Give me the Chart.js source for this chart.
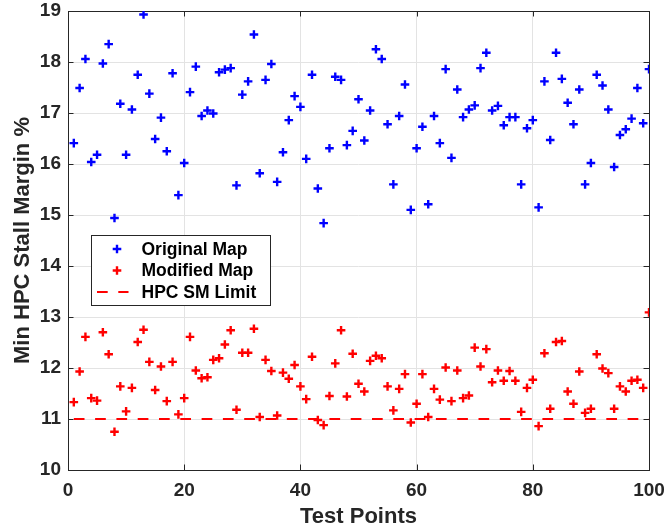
<!DOCTYPE html>
<html lang="en">
<head>
    <meta charset="UTF-8">
    <title>Min HPC Stall Margin</title>
    <script src="https://cdn.jsdelivr.net/npm/chart.js"></script>
    <style>
        body { margin: 0; background: #fff; }
        #smChart { display: block; }
    </style>
</head>
<body>
    <canvas id="smChart" width="670" height="529"></canvas>

    <script>
        // test point numbers along the x axis
        const testPoints = [
            1, 2, 3, 4, 5, 6, 7, 8, 9, 10,
            11, 12, 13, 14, 15, 16, 17, 18, 19, 20,
            21, 22, 23, 24, 25, 26, 27, 28, 29, 30,
            31, 32, 33, 34, 35, 36, 37, 38, 39, 40,
            41, 42, 43, 44, 45, 46, 47, 48, 49, 50,
            51, 52, 53, 54, 55, 56, 57, 58, 59, 60,
            61, 62, 63, 64, 65, 66, 67, 68, 69, 70,
            71, 72, 73, 74, 75, 76, 77, 78, 79, 80,
            81, 82, 83, 84, 85, 86, 87, 88, 89, 90,
            91, 92, 93, 94, 95, 96, 97, 98, 99, 100
        ];

        // min stall margin (%) with the original map
        const originalMap = [
            16.41, 17.49, 18.06, 16.04, 16.18, 17.97, 18.35, 14.94, 17.18, 16.18,
            17.07, 17.75, 18.93, 17.38, 16.49, 16.91, 16.25, 17.78, 15.39, 16.02,
            17.41, 17.91, 16.94, 17.05, 16.99, 17.80, 17.85, 17.88, 15.58, 17.36,
            17.62, 18.54, 15.82, 17.65, 17.96, 15.65, 16.23, 16.86, 17.33, 17.12,
            16.10, 17.75, 15.52, 14.84, 16.31, 17.71, 17.65, 16.37, 16.65, 17.27,
            16.46, 17.05, 18.25, 18.06, 16.78, 15.60, 16.94, 17.56, 15.10, 16.31,
            16.73, 15.21, 16.94, 16.41, 17.86, 16.12, 17.46, 16.92, 17.07, 17.15,
            17.88, 18.18, 17.05, 17.14, 16.76, 16.92, 16.92, 15.60, 16.70, 16.86,
            15.15, 17.62, 16.47, 18.18, 17.67, 17.20, 16.78, 17.46, 15.60, 16.02,
            17.75, 17.54, 17.07, 15.94, 16.57, 16.68, 16.89, 17.49, 16.80, 17.86
        ];

        // min stall margin (%) with the modified map
        const modifiedMap = [
            11.33, 11.93, 12.61, 11.41, 11.36, 12.70, 12.27, 10.75, 11.64, 11.15,
            11.61, 12.51, 12.75, 12.12, 11.57, 12.03, 11.35, 12.12, 11.09, 11.41,
            12.61, 11.95, 11.80, 11.82, 12.16, 12.19, 12.46, 12.74, 11.18, 12.30,
            12.30, 12.77, 11.04, 12.16, 11.94, 11.07, 11.91, 11.79, 12.06, 11.64,
            11.39, 12.22, 10.98, 10.88, 11.45, 12.09, 12.74, 11.44, 12.28, 11.69,
            11.54, 12.14, 12.24, 12.19, 11.64, 11.17, 11.59, 11.88, 10.93, 11.30,
            11.88, 11.04, 11.59, 11.38, 12.01, 11.35, 11.95, 11.41, 11.46, 12.40,
            12.03, 12.37, 11.72, 11.95, 11.75, 11.94, 11.75, 11.14, 11.61, 11.77,
            10.86, 12.29, 11.20, 12.51, 12.53, 11.54, 11.30, 11.93, 11.12, 11.20,
            12.27, 11.99, 11.90, 11.20, 11.64, 11.54, 11.75, 11.77, 11.61, 13.09
        ];

        // stall margin limit line
        const limitX = [1, 100];
        const limitY = [11, 11];

        const xTicks = [0, 20, 40, 60, 80, 100];
        const yTicks = [10, 11, 12, 13, 14, 15, 16, 17, 18, 19];

        const FONT = '"Liberation Sans", Arial, Helvetica, sans-serif';
        const AXIS_COLOR = '#262626';
        const GRID_COLOR = '#e3e3e3';

        const toPoints = (xs, ys) => xs.map((x, i) => ({ x: x, y: ys[i] }));

        // box around the plot with inward tick marks on all four sides
        const frameBox = {
            id: 'frameBox',
            beforeDatasetsDraw(chart) {
                const { ctx, chartArea: a, scales } = chart;
                const len = 5.5;
                ctx.save();
                ctx.strokeStyle = AXIS_COLOR;
                ctx.lineWidth = 1;
                ctx.beginPath();
                xTicks.forEach(v => {
                    const px = Math.round(scales.x.getPixelForValue(v)) + 0.5;
                    ctx.moveTo(px, a.bottom); ctx.lineTo(px, a.bottom - len);
                    ctx.moveTo(px, a.top); ctx.lineTo(px, a.top + len);
                });
                yTicks.forEach(v => {
                    const py = Math.round(scales.y.getPixelForValue(v)) + 0.5;
                    ctx.moveTo(a.left, py); ctx.lineTo(a.left + len, py);
                    ctx.moveTo(a.right, py); ctx.lineTo(a.right - len, py);
                });
                ctx.stroke();
                ctx.strokeRect(Math.round(a.left) + 0.5, Math.round(a.top) + 0.5,
                    Math.round(a.right - a.left), Math.round(a.bottom - a.top));
                ctx.restore();
            }
        };

        // legend box drawn inside the plot area
        const boxLegend = {
            id: 'boxLegend',
            afterDraw(chart) {
                const ctx = chart.ctx;
                const box = { x: 91.5, y: 235.5, w: 179, h: 70 };
                const rows = [249, 270.5, 292];
                ctx.save();
                ctx.fillStyle = '#ffffff';
                ctx.fillRect(box.x, box.y, box.w, box.h);
                ctx.strokeStyle = AXIS_COLOR;
                ctx.lineWidth = 1;
                ctx.strokeRect(box.x, box.y, box.w, box.h);

                chart.data.datasets.forEach((ds, i) => {
                    const cy = rows[i];
                    ctx.strokeStyle = ds.borderColor;
                    if (ds.showLine) {
                        ctx.lineWidth = ds.borderWidth;
                        ctx.setLineDash(ds.borderDash);
                        ctx.beginPath();
                        ctx.moveTo(97, cy);
                        ctx.lineTo(128.5, cy);
                        ctx.stroke();
                        ctx.setLineDash([]);
                    } else {
                        const r = ds.pointRadius;
                        ctx.lineWidth = ds.borderWidth;
                        ctx.beginPath();
                        ctx.moveTo(117 - r, cy); ctx.lineTo(117 + r, cy);
                        ctx.moveTo(117, cy - r); ctx.lineTo(117, cy + r);
                        ctx.stroke();
                    }
                    ctx.fillStyle = '#000000';
                    ctx.font = 'bold 17.5px ' + FONT;
                    ctx.textBaseline = 'middle';
                    ctx.textAlign = 'left';
                    ctx.fillText(ds.label, 141.5, cy + 1);
                });
                ctx.restore();
            }
        };

        const ctx = document.getElementById('smChart').getContext('2d');

        new Chart(ctx, {
            type: 'scatter',
            data: {
                datasets: [{
                    label: 'Original Map',
                    data: toPoints(testPoints, originalMap),
                    pointStyle: 'cross',
                    pointRadius: 4.3,
                    borderWidth: 2.4,
                    borderColor: '#0000ff',
                    backgroundColor: '#0000ff',
                    order: 3
                }, {
                    label: 'Modified Map',
                    data: toPoints(testPoints, modifiedMap),
                    pointStyle: 'cross',
                    pointRadius: 4.3,
                    borderWidth: 2.4,
                    borderColor: '#ff0000',
                    backgroundColor: '#ff0000',
                    order: 2
                }, {
                    label: 'HPC SM Limit',
                    data: toPoints(limitX, limitY),
                    type: 'line',
                    showLine: true,
                    pointRadius: 0,
                    borderWidth: 2,
                    borderDash: [10.7, 10.6],
                    borderColor: '#ff0000',
                    fill: false,
                    order: 1
                }]
            },
            options: {
                responsive: false,
                animation: false,
                layout: { padding: { left: 0, top: 11, right: 21, bottom: 0 } },
                plugins: {
                    legend: { display: false },
                    tooltip: { enabled: false }
                },
                scales: {
                    x: {
                        type: 'linear',
                        position: 'bottom',
                        min: 0,
                        max: 100,
                        afterFit: s => {
                            s.height = 59;
                            s.paddingLeft = 0;
                            s.paddingRight = 0;
                        },
                        afterBuildTicks: s => { s.ticks = xTicks.map(v => ({ value: v })); },
                        ticks: {
                            autoSkip: false,
                            maxRotation: 0,
                            padding: 9,
                            color: AXIS_COLOR,
                            font: { family: FONT, size: 19, weight: 'bold' }
                        },
                        grid: { color: GRID_COLOR, drawTicks: false },
                        border: { display: false },
                        title: {
                            display: true,
                            text: 'Test Points',
                            color: AXIS_COLOR,
                            padding: { top: 0, bottom: 1 },
                            font: { family: FONT, size: 22, weight: 'bold', lineHeight: 1 }
                        }
                    },
                    y: {
                        type: 'linear',
                        min: 10,
                        max: 19,
                        afterFit: s => {
                            s.width = 68;
                            s.paddingTop = 0;
                            s.paddingBottom = 0;
                        },
                        afterBuildTicks: s => { s.ticks = yTicks.map(v => ({ value: v })); },
                        ticks: {
                            autoSkip: false,
                            padding: 7,
                            color: AXIS_COLOR,
                            font: { family: FONT, size: 19, weight: 'bold' }
                        },
                        grid: { color: GRID_COLOR, drawTicks: false },
                        border: { display: false },
                        title: {
                            display: true,
                            text: 'Min HPC Stall Margin %',
                            color: AXIS_COLOR,
                            padding: { top: 12, bottom: 0 },
                            font: { family: FONT, size: 22, weight: 'bold', lineHeight: 1 }
                        }
                    }
                }
            },
            plugins: [frameBox, boxLegend]
        });
    </script>
</body>
</html>
